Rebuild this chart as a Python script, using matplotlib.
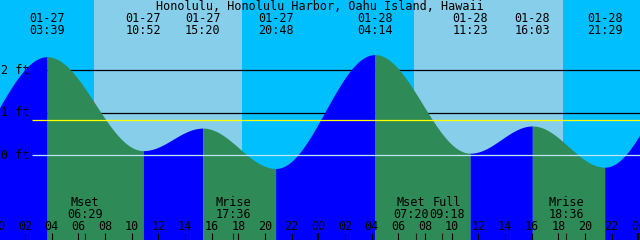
import numpy as np
import matplotlib
matplotlib.use("Agg")
import matplotlib.pyplot as plt

# ---------------- data ----------------
title = "Honolulu, Honolulu Harbor, Oahu Island, Hawaii"
ext_dates = ["01-27", "01-27", "01-27", "01-27", "01-28", "01-28", "01-28", "01-28"]
ext_times = ["03:39", "10:52", "15:20", "20:48", "04:14", "11:23", "16:03", "21:29"]
ext_heights = [2.32, 0.11, 0.64, -0.31, 2.37, 0.05, 0.69, -0.28]
# extremes just outside the window (day offset from 01-27, time, height)
prev_ext = (-1, "20:07", -0.30)
next_ext = (2, "04:50", 2.40)
sun_events = [("01-27", "07:11", "rise"), ("01-27", "18:17", "set"),
              ("01-28", "07:11", "rise"), ("01-28", "18:20", "set")]
moon_names = ["Mset", "Mrise", "Mset", "Full", "Mrise"]
moon_dates = ["01-27", "01-27", "01-28", "01-28", "01-28"]
moon_times = ["06:29", "17:36", "07:20", "09:18", "18:36"]
mllw = 0.0
msl = 0.82
grid_ft = [1, 2]
ft_labels = ["2 ft", "1 ft", "0 ft"]
ft_values = [2, 1, 0]
hour_ticks = list(range(0, 50, 2))

# ---------------- helpers ----------------
def hrs(date, hm):
    d = {"01-27": 0, "01-28": 24}[date]
    h, m = hm.split(":")
    return d + int(h) + int(m) / 60.0

def hrs_off(day, hm):
    h, m = hm.split(":")
    return day * 24 + int(h) + int(m) / 60.0

PX_PER_H = 13.333
X0 = -1.67
def px_t(x):
    return (x - X0) / PX_PER_H

Y0FT = 155.3
PX_PER_FT = 42.5
def px_ft(y):
    return (Y0FT - y) / PX_PER_FT

ext_t = [hrs(d, t) for d, t in zip(ext_dates, ext_times)]
all_t = [hrs_off(prev_ext[0], prev_ext[1])] + ext_t + [hrs_off(next_ext[0], next_ext[1])]
all_h = [prev_ext[2]] + ext_heights + [next_ext[2]]

W, H = 640, 240
fig = plt.figure(figsize=(6.4, 2.4), dpi=100)
ax = fig.add_axes([0, 0, 1, 1])
ax.set_axis_off()
t_min, t_max = px_t(0), px_t(W)
y_min, y_max = px_ft(H), px_ft(0)
ax.set_xlim(t_min, t_max)
ax.set_ylim(y_min, y_max)

DAY = "#87CEEB"
NIGHT = "#00BFFF"
RISE = "#0000FF"
FALL = "#2E8B57"

# background day / night
sun_t = [hrs(d, t) for d, t, _ in sun_events]
edges = [t_min] + sun_t + [t_max]
for i in range(len(edges) - 1):
    color = NIGHT if i % 2 == 0 else DAY
    ax.axvspan(edges[i], edges[i + 1], color=color, lw=0, zorder=0)

# grid lines behind the water
ax.hlines(grid_ft, px_t(32), t_max, color="black", lw=0.9, zorder=1)

# tide curve (cosine between extremes)
for i in range(len(all_t) - 1):
    ta, tb = all_t[i], all_t[i + 1]
    ha, hb = all_h[i], all_h[i + 1]
    tt = np.linspace(ta, tb, 200)
    hh = ha + (hb - ha) * (1 - np.cos(np.pi * (tt - ta) / (tb - ta))) / 2
    color = RISE if hb > ha else FALL
    ax.fill_between(tt, y_min - 1, hh, color=color, lw=0, zorder=2)

# datum lines on top
ax.hlines([msl], px_t(32), t_max, color="#FFFF00", lw=0.9, zorder=3)
ax.hlines([mllw], px_t(32), t_max, color="#BFE6F7", lw=0.9, zorder=3)

FONT = dict(family="DejaVu Sans Mono", fontsize=8.5, color="black", zorder=5)

# title
ax.text(px_t(320), px_ft(9.5), title, ha="center", va="baseline", **FONT)

# extreme labels on top
for t, d, tm in zip(ext_t, ext_dates, ext_times):
    ax.text(t, px_ft(22), d, ha="center", va="baseline", **FONT)
    ax.text(t, px_ft(33.5), tm, ha="center", va="baseline", **FONT)

# ft labels
for lab, v, base in zip(ft_labels, ft_values, [74, 116, 159]):
    ax.text(px_t(1), px_ft(base), lab, ha="left", va="baseline", **FONT)

# hour ticks and labels
tick_top, tick_bot = px_ft(233), px_ft(241)
for h in hour_ticks:
    lw = 1.6 if h % 24 == 0 else 0.8
    ax.vlines(h, tick_bot, tick_top, color="black", lw=lw, zorder=4)
    ax.text(h, px_ft(230), "%02d" % (h % 24), ha="center", va="baseline", **FONT)

# moon events
moon_t = [hrs(d, t) for d, t in zip(moon_dates, moon_times)]
label_shift_px = [0, 0, -5, 5, 0]
for name, t, tm, sh in zip(moon_names, moon_t, moon_times, label_shift_px):
    ax.vlines(t, tick_bot, tick_top, color="#202020", lw=0.8, zorder=4)
    xt = t + sh / PX_PER_H
    ax.text(xt, px_ft(206), name, ha="center", va="baseline", **FONT)
    ax.text(xt, px_ft(218), tm, ha="center", va="baseline", **FONT)

fig.savefig("out.png", dpi=100)
